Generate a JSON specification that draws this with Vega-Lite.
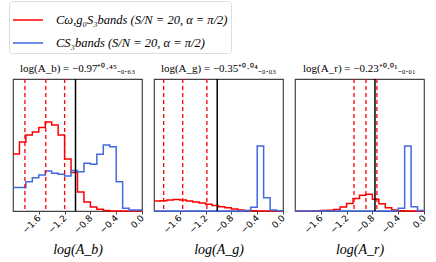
{
  "$schema": "https://vega.github.io/schema/vega-lite/v6.json",
  "padding": {"left": 8, "top": 0, "right": 5, "bottom": 5},
  "datasets": {
    "hist": [
      {"p":"b","s":"A","x":-2.0,"v":57},{"p":"b","s":"A","x":-1.9,"v":69},{"p":"b","s":"A","x":-1.8,"v":76},{"p":"b","s":"A","x":-1.7,"v":79},{"p":"b","s":"A","x":-1.6,"v":83.5},{"p":"b","s":"A","x":-1.5,"v":89},{"p":"b","s":"A","x":-1.4,"v":86},{"p":"b","s":"A","x":-1.3,"v":76},{"p":"b","s":"A","x":-1.2,"v":52},{"p":"b","s":"A","x":-1.1,"v":38.5},{"p":"b","s":"A","x":-1.0,"v":19},{"p":"b","s":"A","x":-0.9,"v":9},{"p":"b","s":"A","x":-0.8,"v":4},{"p":"b","s":"A","x":-0.7,"v":1.7},{"p":"b","s":"A","x":-0.6,"v":0.5},{"p":"b","s":"A","x":-0.5,"v":0},{"p":"b","s":"A","x":-0.4,"v":0},{"p":"b","s":"A","x":-0.3,"v":0},{"p":"b","s":"A","x":-0.2,"v":0},{"p":"b","s":"A","x":-0.1,"v":0},{"p":"b","s":"A","x":0.0,"v":0},
      {"p":"b","s":"B","x":-2.0,"v":23.5},{"p":"b","s":"B","x":-1.9,"v":23.5},{"p":"b","s":"B","x":-1.8,"v":29.3},{"p":"b","s":"B","x":-1.7,"v":33.3},{"p":"b","s":"B","x":-1.6,"v":36},{"p":"b","s":"B","x":-1.5,"v":40},{"p":"b","s":"B","x":-1.4,"v":37.7},{"p":"b","s":"B","x":-1.3,"v":36.7},{"p":"b","s":"B","x":-1.2,"v":35},{"p":"b","s":"B","x":-1.1,"v":40.5},{"p":"b","s":"B","x":-1.0,"v":39.3},{"p":"b","s":"B","x":-0.9,"v":47.7},{"p":"b","s":"B","x":-0.8,"v":46.7},{"p":"b","s":"B","x":-0.7,"v":56.7},{"p":"b","s":"B","x":-0.6,"v":66},{"p":"b","s":"B","x":-0.5,"v":64.3},{"p":"b","s":"B","x":-0.4,"v":29.3},{"p":"b","s":"B","x":-0.3,"v":2.7},{"p":"b","s":"B","x":-0.2,"v":1},{"p":"b","s":"B","x":-0.1,"v":1},{"p":"b","s":"B","x":0.0,"v":1},
      {"p":"g","s":"A","x":-2.0,"v":10},{"p":"g","s":"A","x":-1.9,"v":10.3},{"p":"g","s":"A","x":-1.8,"v":11},{"p":"g","s":"A","x":-1.7,"v":11.5},{"p":"g","s":"A","x":-1.6,"v":11},{"p":"g","s":"A","x":-1.5,"v":10},{"p":"g","s":"A","x":-1.4,"v":9},{"p":"g","s":"A","x":-1.3,"v":8},{"p":"g","s":"A","x":-1.2,"v":6.8},{"p":"g","s":"A","x":-1.1,"v":5.5},{"p":"g","s":"A","x":-1.0,"v":4.3},{"p":"g","s":"A","x":-0.9,"v":3.3},{"p":"g","s":"A","x":-0.8,"v":2},{"p":"g","s":"A","x":-0.7,"v":1},{"p":"g","s":"A","x":-0.6,"v":0.4},{"p":"g","s":"A","x":-0.5,"v":0.2},{"p":"g","s":"A","x":-0.4,"v":0},{"p":"g","s":"A","x":-0.3,"v":0},{"p":"g","s":"A","x":-0.2,"v":0},{"p":"g","s":"A","x":-0.1,"v":0},{"p":"g","s":"A","x":0.0,"v":0},
      {"p":"g","s":"B","x":-2.0,"v":0},{"p":"g","s":"B","x":-1.9,"v":0},{"p":"g","s":"B","x":-1.8,"v":0},{"p":"g","s":"B","x":-1.7,"v":0},{"p":"g","s":"B","x":-1.6,"v":0},{"p":"g","s":"B","x":-1.5,"v":0},{"p":"g","s":"B","x":-1.4,"v":0},{"p":"g","s":"B","x":-1.3,"v":0},{"p":"g","s":"B","x":-1.2,"v":0},{"p":"g","s":"B","x":-1.1,"v":0},{"p":"g","s":"B","x":-1.0,"v":0},{"p":"g","s":"B","x":-0.9,"v":0},{"p":"g","s":"B","x":-0.8,"v":0},{"p":"g","s":"B","x":-0.7,"v":0},{"p":"g","s":"B","x":-0.6,"v":0.3},{"p":"g","s":"B","x":-0.5,"v":3.7},{"p":"g","s":"B","x":-0.4,"v":65},{"p":"g","s":"B","x":-0.3,"v":13.3},{"p":"g","s":"B","x":-0.2,"v":1},{"p":"g","s":"B","x":-0.1,"v":0.3},{"p":"g","s":"B","x":0.0,"v":0.3},
      {"p":"r","s":"A","x":-2.0,"v":0},{"p":"r","s":"A","x":-1.9,"v":0},{"p":"r","s":"A","x":-1.8,"v":0},{"p":"r","s":"A","x":-1.7,"v":0.2},{"p":"r","s":"A","x":-1.6,"v":0.4},{"p":"r","s":"A","x":-1.5,"v":0.8},{"p":"r","s":"A","x":-1.4,"v":1.5},{"p":"r","s":"A","x":-1.3,"v":4},{"p":"r","s":"A","x":-1.2,"v":7.5},{"p":"r","s":"A","x":-1.1,"v":12.5},{"p":"r","s":"A","x":-1.0,"v":15.7},{"p":"r","s":"A","x":-0.9,"v":16.8},{"p":"r","s":"A","x":-0.8,"v":11.7},{"p":"r","s":"A","x":-0.7,"v":7.3},{"p":"r","s":"A","x":-0.6,"v":3.3},{"p":"r","s":"A","x":-0.5,"v":1},{"p":"r","s":"A","x":-0.4,"v":0.3},{"p":"r","s":"A","x":-0.3,"v":0},{"p":"r","s":"A","x":-0.2,"v":0},{"p":"r","s":"A","x":-0.1,"v":0},{"p":"r","s":"A","x":0.0,"v":0},
      {"p":"r","s":"B","x":-2.0,"v":0},{"p":"r","s":"B","x":-1.9,"v":0},{"p":"r","s":"B","x":-1.8,"v":0},{"p":"r","s":"B","x":-1.7,"v":0},{"p":"r","s":"B","x":-1.6,"v":0},{"p":"r","s":"B","x":-1.5,"v":0},{"p":"r","s":"B","x":-1.4,"v":0},{"p":"r","s":"B","x":-1.3,"v":0},{"p":"r","s":"B","x":-1.2,"v":0},{"p":"r","s":"B","x":-1.1,"v":0},{"p":"r","s":"B","x":-1.0,"v":0},{"p":"r","s":"B","x":-0.9,"v":0},{"p":"r","s":"B","x":-0.8,"v":0},{"p":"r","s":"B","x":-0.7,"v":0},{"p":"r","s":"B","x":-0.6,"v":0},{"p":"r","s":"B","x":-0.5,"v":0.3},{"p":"r","s":"B","x":-0.4,"v":2.7},{"p":"r","s":"B","x":-0.3,"v":65},{"p":"r","s":"B","x":-0.2,"v":4.3},{"p":"r","s":"B","x":-0.1,"v":0.5},{"p":"r","s":"B","x":0.0,"v":0.5}
    ],
    "lines": [
      {"p":"b","k":"q","x":-1.815},{"p":"b","k":"q","x":-1.492},{"p":"b","k":"q","x":-1.2},{"p":"b","k":"t","x":-1.031},
      {"p":"g","k":"q","x":-1.85},{"p":"g","k":"q","x":-1.555},{"p":"g","k":"q","x":-1.18},{"p":"g","k":"t","x":-1.02},
      {"p":"r","k":"q","x":-1.085},{"p":"r","k":"q","x":-0.9},{"p":"r","k":"q","x":-0.73},{"p":"r","k":"t","x":-0.76}
    ]
  },
  "spacing": 12,
  "bounds": "flush",
  "hconcat": [
    {
      "width": 129, "height": 132,
      "title": {"text": "log(A_b) = −0.97⁺⁰·⁴⁵₋₀.₆₃"},
      "layer": [
        {
          "data": {"name": "hist"},
          "transform": [{"filter": "datum.p == 'b'"}],
          "mark": {"type": "line", "interpolate": "step-after", "strokeWidth": 1.5},
          "encoding": {
            "x": {"field": "x", "type": "quantitative", "scale": {"domain": [-2, 0], "nice": false, "zero": false}, "axis": {"title": "log(A_b)", "values": [-1.6, -1.2, -0.8, -0.4, 0], "format": ".1f", "labelOverlap": false, "labelFlush": false}},
            "y": {"field": "v", "type": "quantitative", "scale": {"domain": [0, 132]}, "axis": null},
            "color": {"field": "s", "type": "nominal", "scale": {"domain": ["A", "B"], "range": ["#ff0000", "#4169e1"]},
              "legend": {"orient": "none", "legendX": -4, "legendY": -78, "title": null,
                "labelExpr": "datum.label == 'A' ? 'Cω,g₀S₃bands (S/N = 20, α = π/2)' : 'CS₃bands (S/N = 20, α = π/2)'",
                "symbolType": "stroke", "symbolSize": 900, "symbolStrokeWidth": 1.5,
                "labelFont": "Liberation Serif", "labelFontStyle": "italic", "labelFontSize": 12.5, "labelColor": "black", "labelLimit": 400,
                "strokeColor": "#dddddd", "fillColor": "white", "cornerRadius": 3, "padding": 3, "rowPadding": 0, "labelOffset": 12}}
          }
        },
        {
          "data": {"name": "lines"},
          "transform": [{"filter": "datum.p == 'b' && datum.k == 'q'"}],
          "mark": {"type": "rule", "color": "#ff0000", "strokeDash": [4, 3], "strokeWidth": 1.3},
          "encoding": {"x": {"field": "x", "type": "quantitative", "axis": {"title": "log(A_b)", "values": [-1.6, -1.2, -0.8, -0.4, 0], "format": ".1f", "labelOverlap": false, "labelFlush": false}}}
        },
        {
          "data": {"name": "lines"},
          "transform": [{"filter": "datum.p == 'b' && datum.k == 't'"}],
          "mark": {"type": "rule", "color": "black", "strokeWidth": 1.5},
          "encoding": {"x": {"field": "x", "type": "quantitative", "axis": {"title": "log(A_b)", "values": [-1.6, -1.2, -0.8, -0.4, 0], "format": ".1f", "labelOverlap": false, "labelFlush": false}}}
        }
      ]
    },
    {
      "width": 129, "height": 132,
      "title": {"text": "log(A_g) = −0.35⁺⁰·⁰⁴₋₀.₀₃"},
      "layer": [
        {
          "data": {"name": "hist"},
          "transform": [{"filter": "datum.p == 'g'"}],
          "mark": {"type": "line", "interpolate": "step-after", "strokeWidth": 1.5},
          "encoding": {
            "x": {"field": "x", "type": "quantitative", "scale": {"domain": [-2, 0], "nice": false, "zero": false}, "axis": {"title": "log(A_g)", "values": [-1.6, -1.2, -0.8, -0.4, 0], "format": ".1f", "labelOverlap": false, "labelFlush": false}},
            "y": {"field": "v", "type": "quantitative", "scale": {"domain": [0, 132]}, "axis": null},
            "color": {"field": "s", "type": "nominal", "scale": {"domain": ["A", "B"], "range": ["#ff0000", "#4169e1"]}}
          }
        },
        {
          "data": {"name": "lines"},
          "transform": [{"filter": "datum.p == 'g' && datum.k == 'q'"}],
          "mark": {"type": "rule", "color": "#ff0000", "strokeDash": [4, 3], "strokeWidth": 1.3},
          "encoding": {"x": {"field": "x", "type": "quantitative", "axis": {"title": "log(A_g)", "values": [-1.6, -1.2, -0.8, -0.4, 0], "format": ".1f", "labelOverlap": false, "labelFlush": false}}}
        },
        {
          "data": {"name": "lines"},
          "transform": [{"filter": "datum.p == 'g' && datum.k == 't'"}],
          "mark": {"type": "rule", "color": "black", "strokeWidth": 1.5},
          "encoding": {"x": {"field": "x", "type": "quantitative", "axis": {"title": "log(A_g)", "values": [-1.6, -1.2, -0.8, -0.4, 0], "format": ".1f", "labelOverlap": false, "labelFlush": false}}}
        }
      ]
    },
    {
      "width": 129, "height": 132,
      "title": {"text": "log(A_r) = −0.23⁺⁰·⁰¹₋₀.₀₁"},
      "layer": [
        {
          "data": {"name": "hist"},
          "transform": [{"filter": "datum.p == 'r'"}],
          "mark": {"type": "line", "interpolate": "step-after", "strokeWidth": 1.5},
          "encoding": {
            "x": {"field": "x", "type": "quantitative", "scale": {"domain": [-2, 0], "nice": false, "zero": false}, "axis": {"title": "log(A_r)", "values": [-1.6, -1.2, -0.8, -0.4, 0], "format": ".1f", "labelOverlap": false, "labelFlush": false}},
            "y": {"field": "v", "type": "quantitative", "scale": {"domain": [0, 132]}, "axis": null},
            "color": {"field": "s", "type": "nominal", "scale": {"domain": ["A", "B"], "range": ["#ff0000", "#4169e1"]}}
          }
        },
        {
          "data": {"name": "lines"},
          "transform": [{"filter": "datum.p == 'r' && datum.k == 'q'"}],
          "mark": {"type": "rule", "color": "#ff0000", "strokeDash": [4, 3], "strokeWidth": 1.3},
          "encoding": {"x": {"field": "x", "type": "quantitative", "axis": {"title": "log(A_r)", "values": [-1.6, -1.2, -0.8, -0.4, 0], "format": ".1f", "labelOverlap": false, "labelFlush": false}}}
        },
        {
          "data": {"name": "lines"},
          "transform": [{"filter": "datum.p == 'r' && datum.k == 't'"}],
          "mark": {"type": "rule", "color": "black", "strokeWidth": 1.5},
          "encoding": {"x": {"field": "x", "type": "quantitative", "axis": {"title": "log(A_r)", "values": [-1.6, -1.2, -0.8, -0.4, 0], "format": ".1f", "labelOverlap": false, "labelFlush": false}}}
        }
      ]
    }
  ],
  "config": {
    "view": {"stroke": "#444444", "strokeWidth": 1.2},
    "title": {"font": "Liberation Serif", "fontSize": 11, "fontWeight": "normal", "color": "black", "offset": 4},
    "axisX": {
      "domain": false, "grid": false, "ticks": true, "tickSize": 3, "tickColor": "#444444",
      "labelAngle": -45, "labelAlign": "right", "labelBaseline": "middle",
      "labelFont": "DejaVu Sans", "labelFontSize": 9, "labelColor": "black", "labelPadding": 2,
      "titleFont": "Liberation Serif", "titleFontStyle": "italic", "titleFontWeight": "normal", "titleFontSize": 14, "titleColor": "black", "titlePadding": 8
    }
  }
}
